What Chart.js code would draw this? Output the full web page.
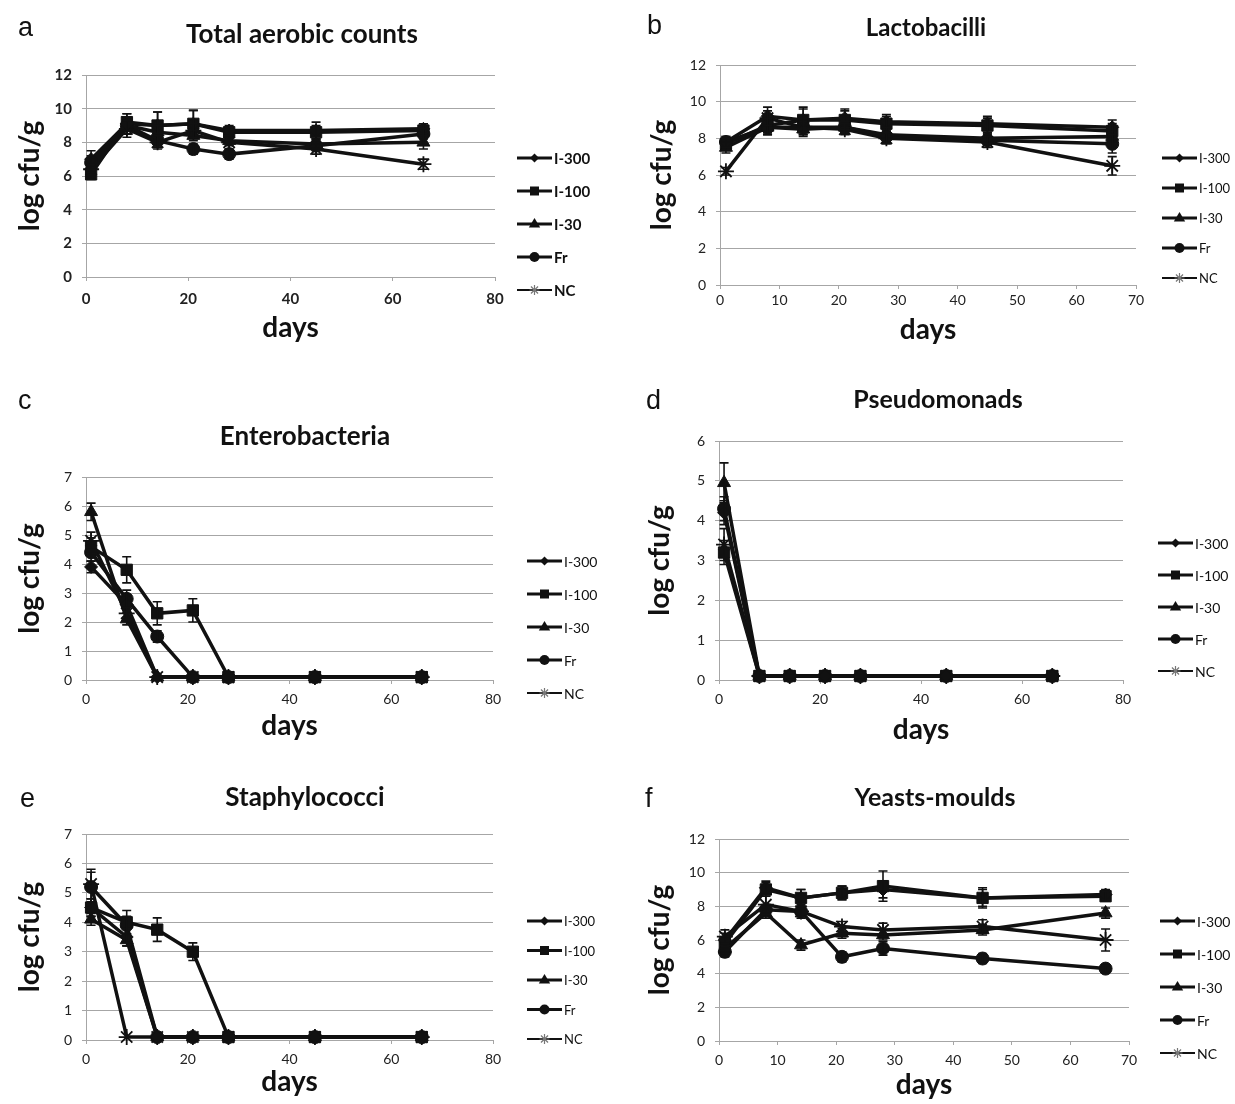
<!DOCTYPE html>
<html><head><meta charset="utf-8">
<script src="https://cdn.jsdelivr.net/npm/chart.js@4.4.1/dist/chart.umd.min.js"></script>
<style>
html,body{margin:0;padding:0;background:#fff;overflow:hidden;width:1235px;height:1104px;}
canvas{position:absolute;}
.lt{position:absolute;font-family:"Liberation Sans",Arial,sans-serif;font-size:27px;color:#111;line-height:1;}
</style></head><body>
<canvas id="ca" width="604" height="350" style="left:0px;top:0px"></canvas>
<canvas id="cb" width="618" height="350" style="left:617px;top:0px"></canvas>
<canvas id="cc" width="610" height="380" style="left:0px;top:370px"></canvas>
<canvas id="cd" width="590" height="380" style="left:643px;top:370px"></canvas>
<canvas id="ce" width="610" height="344" style="left:0px;top:760px"></canvas>
<canvas id="cf" width="590" height="344" style="left:640px;top:760px"></canvas>
<div class="lt" style="left:18px;top:14px">a</div>
<div class="lt" style="left:647px;top:12px">b</div>
<div class="lt" style="left:18px;top:387px">c</div>
<div class="lt" style="left:646px;top:387px">d</div>
<div class="lt" style="left:20px;top:785px">e</div>
<div class="lt" style="left:645px;top:785px">f</div>
<script>
// ---- data ----
const days = [1, 8, 14, 21, 28, 45, 66];
const seriesNames = ['I-300', 'I-100', 'I-30', 'Fr', 'NC'];

// a: Total aerobic counts
const aI300 = [7.0, 9.1, 9.0, 9.1, 8.7, 8.7, 8.8];
const aI100 = [6.1, 9.2, 9.0, 9.1, 8.6, 8.6, 8.7];
const aI30  = [6.6, 9.0, 8.6, 8.4, 8.1, 7.9, 8.0];
const aFr   = [6.8, 9.0, 8.1, 7.6, 7.3, 7.8, 8.5];
const aNC   = [6.4, 8.8, 8.0, 8.7, 8.0, 7.6, 6.7];
const aErrI300 = [0.5, 0.6, 0.8, 0.8, 0.3, 0.5, 0.3];
const aErrI100 = [0.3, 0.5, 0.8, 0.8, 0.3, 0.4, 0.4];
const aErrI30  = [0.4, 0.5, 0.4, 0.3, 0.3, 0.3, 0.4];
const aErrFr   = [0.4, 0.5, 0.4, 0.3, 0.3, 0.3, 0.3];
const aErrNC   = [0.3, 0.5, 0.4, 0.4, 0.4, 0.3, 0.3];

// b: Lactobacilli
const bI300 = [7.8, 9.2, 9.0, 9.1, 8.9, 8.8, 8.6];
const bI100 = [7.7, 8.7, 9.0, 9.0, 8.8, 8.7, 8.4];
const bI30  = [7.5, 8.6, 8.5, 8.6, 8.2, 8.0, 8.1];
const bFr   = [7.8, 8.6, 8.6, 8.6, 8.1, 7.9, 7.7];
const bNC   = [6.2, 9.1, 8.6, 8.5, 8.0, 7.8, 6.5];
const bErrI300 = [0.3, 0.5, 0.7, 0.5, 0.4, 0.4, 0.4];
const bErrI100 = [0.3, 0.4, 0.6, 0.5, 0.4, 0.4, 0.4];
const bErrI30  = [0.3, 0.4, 0.4, 0.3, 0.4, 0.3, 0.3];
const bErrFr   = [0.3, 0.4, 0.4, 0.3, 0.3, 0.3, 0.5];
const bErrNC   = [0.2, 0.4, 0.4, 0.3, 0.3, 0.3, 0.5];

// c: Enterobacteria
const cI300 = [3.9, 2.6, 0.1, 0.1, 0.1, 0.1, 0.1];
const cI100 = [4.6, 3.8, 2.3, 2.4, 0.1, 0.1, 0.1];
const cI30  = [5.8, 2.1, 0.1, 0.1, 0.1, 0.1, 0.1];
const cFr   = [4.4, 2.8, 1.5, 0.1, 0.1, 0.1, 0.1];
const cNC   = [4.8, 2.3, 0.1, 0.1, 0.1, 0.1, 0.1];
const cErrI300 = [0.2, 0.3, 0, 0, 0, 0, 0];
const cErrI100 = [0.3, 0.45, 0.4, 0.4, 0, 0, 0];
const cErrI30  = [0.3, 0.2, 0, 0, 0, 0, 0];
const cErrFr   = [0.3, 0.3, 0.2, 0, 0, 0, 0];
const cErrNC   = [0.3, 0.2, 0, 0, 0, 0, 0];

// d: Pseudomonads
const dI300 = [4.2, 0.1, 0.1, 0.1, 0.1, 0.1, 0.1];
const dI100 = [3.2, 0.1, 0.1, 0.1, 0.1, 0.1, 0.1];
const dI30  = [4.95, 0.1, 0.1, 0.1, 0.1, 0.1, 0.1];
const dFr   = [4.3, 0.1, 0.1, 0.1, 0.1, 0.1, 0.1];
const dNC   = [3.4, 0.1, 0.1, 0.1, 0.1, 0.1, 0.1];
const dErrI300 = [0.3, 0, 0, 0, 0, 0, 0];
const dErrI100 = [0.3, 0, 0, 0, 0, 0, 0];
const dErrI30  = [0.5, 0, 0, 0, 0, 0, 0];
const dErrFr   = [0.3, 0, 0, 0, 0, 0, 0];
const dErrNC   = [0.4, 0, 0, 0, 0, 0, 0];

// e: Staphylococci
const eI300 = [4.5, 3.5, 0.1, 0.1, 0.1, 0.1, 0.1];
const eI100 = [4.5, 4.0, 3.75, 3.0, 0.1, 0.1, 0.1];
const eI30  = [4.1, 3.4, 0.1, 0.1, 0.1, 0.1, 0.1];
const eFr   = [5.2, 3.9, 0.1, 0.1, 0.1, 0.1, 0.1];
const eNC   = [5.3, 0.1, 0.1, 0.1, 0.1, 0.1, 0.1];
const eErrI300 = [0.3, 0.3, 0, 0, 0, 0, 0];
const eErrI100 = [0.3, 0.4, 0.4, 0.3, 0, 0, 0];
const eErrI30  = [0.2, 0.2, 0, 0, 0, 0, 0];
const eErrFr   = [0.5, 0.3, 0, 0, 0, 0, 0];
const eErrNC   = [0.5, 0, 0, 0, 0, 0, 0];

// f: Yeasts-moulds
const fI300 = [6.0, 9.1, 8.5, 8.8, 9.0, 8.5, 8.7];
const fI100 = [5.8, 9.0, 8.5, 8.8, 9.2, 8.5, 8.6];
const fI30  = [5.5, 7.6, 5.7, 6.4, 6.3, 6.6, 7.6];
const fFr   = [5.3, 7.8, 7.7, 5.0, 5.5, 4.9, 4.3];
const fNC   = [6.2, 8.1, 7.7, 6.8, 6.6, 6.8, 6.0];
const fErrI300 = [0.4, 0.4, 0.5, 0.4, 0.5, 0.5, 0.3];
const fErrI100 = [0.4, 0.4, 0.5, 0.4, 0.9, 0.6, 0.3];
const fErrI30  = [0.3, 0.3, 0.3, 0.3, 0.3, 0.3, 0.3];
const fErrFr   = [0.3, 0.3, 0.3, 0.3, 0.4, 0.3, 0.2];
const fErrNC   = [0.4, 0.5, 0.4, 0.3, 0.4, 0.4, 0.65];

const panelTitles = ['Total aerobic counts', 'Lactobacilli', 'Enterobacteria', 'Pseudomonads', 'Staphylococci', 'Yeasts-moulds'];
const xAxisTitle = 'days';
const yAxisTitle = 'log cfu/g';

// ---- styles / layout ----
const markerStyles = ['rectRot', 'rect', 'triangle', 'circle', 'star'];
const markerRadius = [6.5, 8, 7.5, 6.5, 8];
const legendRadius = [4.5, 6, 6, 5, 5];
const INK = '#111';
const GRID = '#a6a6a6';

const panels = [
  {id:'ca', title:panelTitles[0], series:[aI300,aI100,aI30,aFr,aNC], errs:[aErrI300,aErrI100,aErrI30,aErrFr,aErrNC],
   xMax:80, xStep:20, yMax:12, yStep:2,
   L:{tSize:26, tPadT:19.4, tPadB:24.4, wy:86, yTitlePadT:13.2, rw:109, hx:73, xTitlePadB:5.2, xTickPad:9, tickSize:15, tickBold:true,
      lgDx:22, lgDy0:83, lgStep:33, lgSize:15, lgBold:true}},
  {id:'cb', title:panelTitles[1], series:[bI300,bI100,bI30,bFr,bNC], errs:[bErrI300,bErrI100,bErrI30,bErrFr,bErrNC],
   xMax:70, xStep:10, yMax:12, yStep:2,
   L:{tSize:24, tPadT:13.6, tPadB:22.6, wy:103, yTitlePadT:28.2, rw:99, hx:65, xTitlePadB:3.2, xTickPad:3, tickSize:14, tickBold:false,
      lgDx:26, lgDy0:93, lgStep:30, lgSize:13, lgBold:false}},
  {id:'cc', title:panelTitles[2], series:[cI300,cI100,cI30,cFr,cNC], errs:[cErrI300,cErrI100,cErrI30,cErrFr,cErrNC],
   xMax:80, xStep:20, yMax:7, yStep:1,
   L:{tSize:26, tPadT:51.4, tPadB:24.4, wy:86, yTitlePadT:13.2, rw:117, hx:70, xTitlePadB:7.2, xTickPad:7, tickSize:14, tickBold:false,
      lgDx:34, lgDy0:84, lgStep:33, lgSize:14, lgBold:false}},
  {id:'cd', title:panelTitles[3], series:[dI300,dI100,dI30,dFr,dNC], errs:[dErrI300,dErrI100,dErrI30,dErrFr,dErrNC],
   xMax:80, xStep:20, yMax:6, yStep:1,
   L:{tSize:25, tPadT:15, tPadB:26, wy:76, yTitlePadT:0.2, rw:110, hx:70, xTitlePadB:3.2, xTickPad:7, tickSize:14, tickBold:false,
      lgDx:35, lgDy0:102, lgStep:32, lgSize:14, lgBold:false}},
  {id:'ce', title:panelTitles[4], series:[eI300,eI100,eI30,eFr,eNC], errs:[eErrI300,eErrI100,eErrI30,eErrFr,eErrNC],
   xMax:80, xStep:20, yMax:7, yStep:1,
   L:{tSize:26, tPadT:22.4, tPadB:20.4, wy:86, yTitlePadT:13.2, rw:117, hx:64, xTitlePadB:5.2, xTickPad:7, tickSize:14, tickBold:false,
      lgDx:34, lgDy0:87, lgStep:29.5, lgSize:13, lgBold:false}},
  {id:'cf', title:panelTitles[5], series:[fI300,fI100,fI30,fFr,fNC], errs:[fErrI300,fErrI100,fErrI30,fErrFr,fErrNC],
   xMax:70, xStep:10, yMax:12, yStep:2,
   L:{tSize:25, tPadT:23, tPadB:26, wy:79, yTitlePadT:3.2, rw:101, hx:63, xTitlePadB:2.2, xTickPad:7, tickSize:14, tickBold:false,
      lgDx:31, lgDy0:82, lgStep:33, lgSize:14, lgBold:false}}
];

function drawMarker(ctx, style, r, x, y) {
  ctx.beginPath();
  if (style === 'rectRot') {
    ctx.moveTo(x, y - r); ctx.lineTo(x + r, y); ctx.lineTo(x, y + r); ctx.lineTo(x - r, y); ctx.closePath(); ctx.fill();
  } else if (style === 'rect') {
    const s = r * 0.75; ctx.rect(x - s, y - s, 2 * s, 2 * s); ctx.fill();
  } else if (style === 'triangle') {
    ctx.moveTo(x, y - r); ctx.lineTo(x + r * 0.95, y + r * 0.6); ctx.lineTo(x - r * 0.95, y + r * 0.6); ctx.closePath(); ctx.fill();
  } else if (style === 'circle') {
    ctx.arc(x, y, r, 0, Math.PI * 2); ctx.fill();
  } else {
    for (let k = 0; k < 4; k++) {
      const a = k * Math.PI / 4;
      ctx.moveTo(x - Math.cos(a) * r, y - Math.sin(a) * r); ctx.lineTo(x + Math.cos(a) * r, y + Math.sin(a) * r);
    }
    ctx.stroke();
  }
}

const errorBarPlugin = {
  id: 'errorBars',
  afterDatasetsDraw(chart) {
    const {ctx} = chart; const xs = chart.scales.x, ys = chart.scales.y;
    ctx.save(); ctx.strokeStyle = INK; ctx.lineWidth = 1.6;
    chart.data.datasets.forEach(ds => {
      (ds.errors || []).forEach((e, j) => {
        if (!e) return;
        const p = ds.data[j];
        const px = xs.getPixelForValue(p.x);
        const y1 = ys.getPixelForValue(p.y + e), y2 = ys.getPixelForValue(p.y - e);
        ctx.beginPath();
        ctx.moveTo(px, y1); ctx.lineTo(px, y2);
        ctx.moveTo(px - 4.5, y1); ctx.lineTo(px + 4.5, y1);
        ctx.moveTo(px - 4.5, y2); ctx.lineTo(px + 4.5, y2);
        ctx.stroke();
      });
    });
    ctx.restore();
  }
};

const xlLegendPlugin = {
  id: 'xlLegend',
  afterDraw(chart, args, o) {
    const {ctx, chartArea} = chart;
    const x0 = chartArea.right + o.dx, len = 35;
    ctx.save();
    chart.data.datasets.forEach((ds, i) => {
      const y = chartArea.top + o.dy0 + i * o.step;
      ctx.strokeStyle = INK; ctx.lineWidth = i === 4 ? 2 : 3;
      ctx.beginPath(); ctx.moveTo(x0, y); ctx.lineTo(x0 + len, y); ctx.stroke();
      ctx.fillStyle = INK;
      if (i === 4) { ctx.strokeStyle = '#777'; ctx.lineWidth = 1.2; }
      drawMarker(ctx, markerStyles[i], legendRadius[i], x0 + len / 2, y);
      ctx.fillStyle = INK;
      ctx.font = (o.bold ? 'bold ' : '') + o.size + 'px Lato';
      ctx.textBaseline = 'middle'; ctx.textAlign = 'left';
      ctx.fillText(ds.label, x0 + len + 2, y + 1);
    });
    ctx.restore();
  }
};

panels.forEach(p => {
  const L = p.L;
  const datasets = p.series.map((vals, i) => ({
    label: seriesNames[i],
    data: days.map((d, j) => ({x: d, y: vals[j]})),
    errors: p.errs[i],
    showLine: true, tension: 0, clip: false,
    borderColor: INK, backgroundColor: INK, borderWidth: 3.5,
    pointStyle: markerStyles[i], pointRadius: markerRadius[i], pointHoverRadius: markerRadius[i],
    pointBackgroundColor: INK, pointBorderColor: INK, pointBorderWidth: i === 4 ? 1.8 : 1
  }));
  const tickFont = {family: 'Lato', size: L.tickSize, weight: L.tickBold ? 'bold' : 'normal'};
  new Chart(document.getElementById(p.id), {
    type: 'scatter',
    data: {datasets},
    plugins: [errorBarPlugin, xlLegendPlugin],
    options: {
      responsive: false, animation: false, devicePixelRatio: 1,
      layout: {padding: 0},
      events: [],
      plugins: {
        legend: {display: false}, tooltip: {enabled: false},
        title: {display: true, text: p.title, color: INK,
                font: {family: 'Lato', weight: 'bold', size: L.tSize, lineHeight: 1.2},
                padding: {top: L.tPadT, bottom: L.tPadB}},
        xlLegend: {dx: L.lgDx, dy0: L.lgDy0, step: L.lgStep, size: L.lgSize, bold: L.lgBold}
      },
      scales: {
        x: {type: 'linear', position: 'bottom', min: 0, max: p.xMax,
            ticks: {stepSize: p.xStep, font: tickFont, color: '#222', padding: L.xTickPad, maxRotation: 0},
            grid: {drawOnChartArea: false, drawTicks: true, tickLength: 4, color: GRID},
            border: {color: GRID, width: 1},
            title: {display: true, text: xAxisTitle, color: INK, font: {family: 'Lato', weight: 'bold', size: 28, lineHeight: 1.2},
                    padding: {top: 0, bottom: L.xTitlePadB}},
            afterFit(s) { s.height = L.hx; }},
        y: {type: 'linear', position: 'left', min: 0, max: p.yMax,
            ticks: {stepSize: p.yStep, font: tickFont, color: '#222', padding: 10},
            grid: {color: GRID, drawTicks: true, tickLength: 4},
            border: {color: GRID, width: 1},
            title: {display: true, text: yAxisTitle, color: INK, font: {family: 'Lato', weight: 'bold', size: 28, lineHeight: 1.2},
                    padding: {top: L.yTitlePadT, bottom: 0}},
            afterFit(s) { s.width = L.wy; }},
        yr: {type: 'linear', position: 'right', display: true, min: 0, max: 1,
             ticks: {display: false}, grid: {display: false}, border: {display: false},
             afterFit(s) { s.width = L.rw; }}
      }
    }
  });
});
</script>
</body></html>
